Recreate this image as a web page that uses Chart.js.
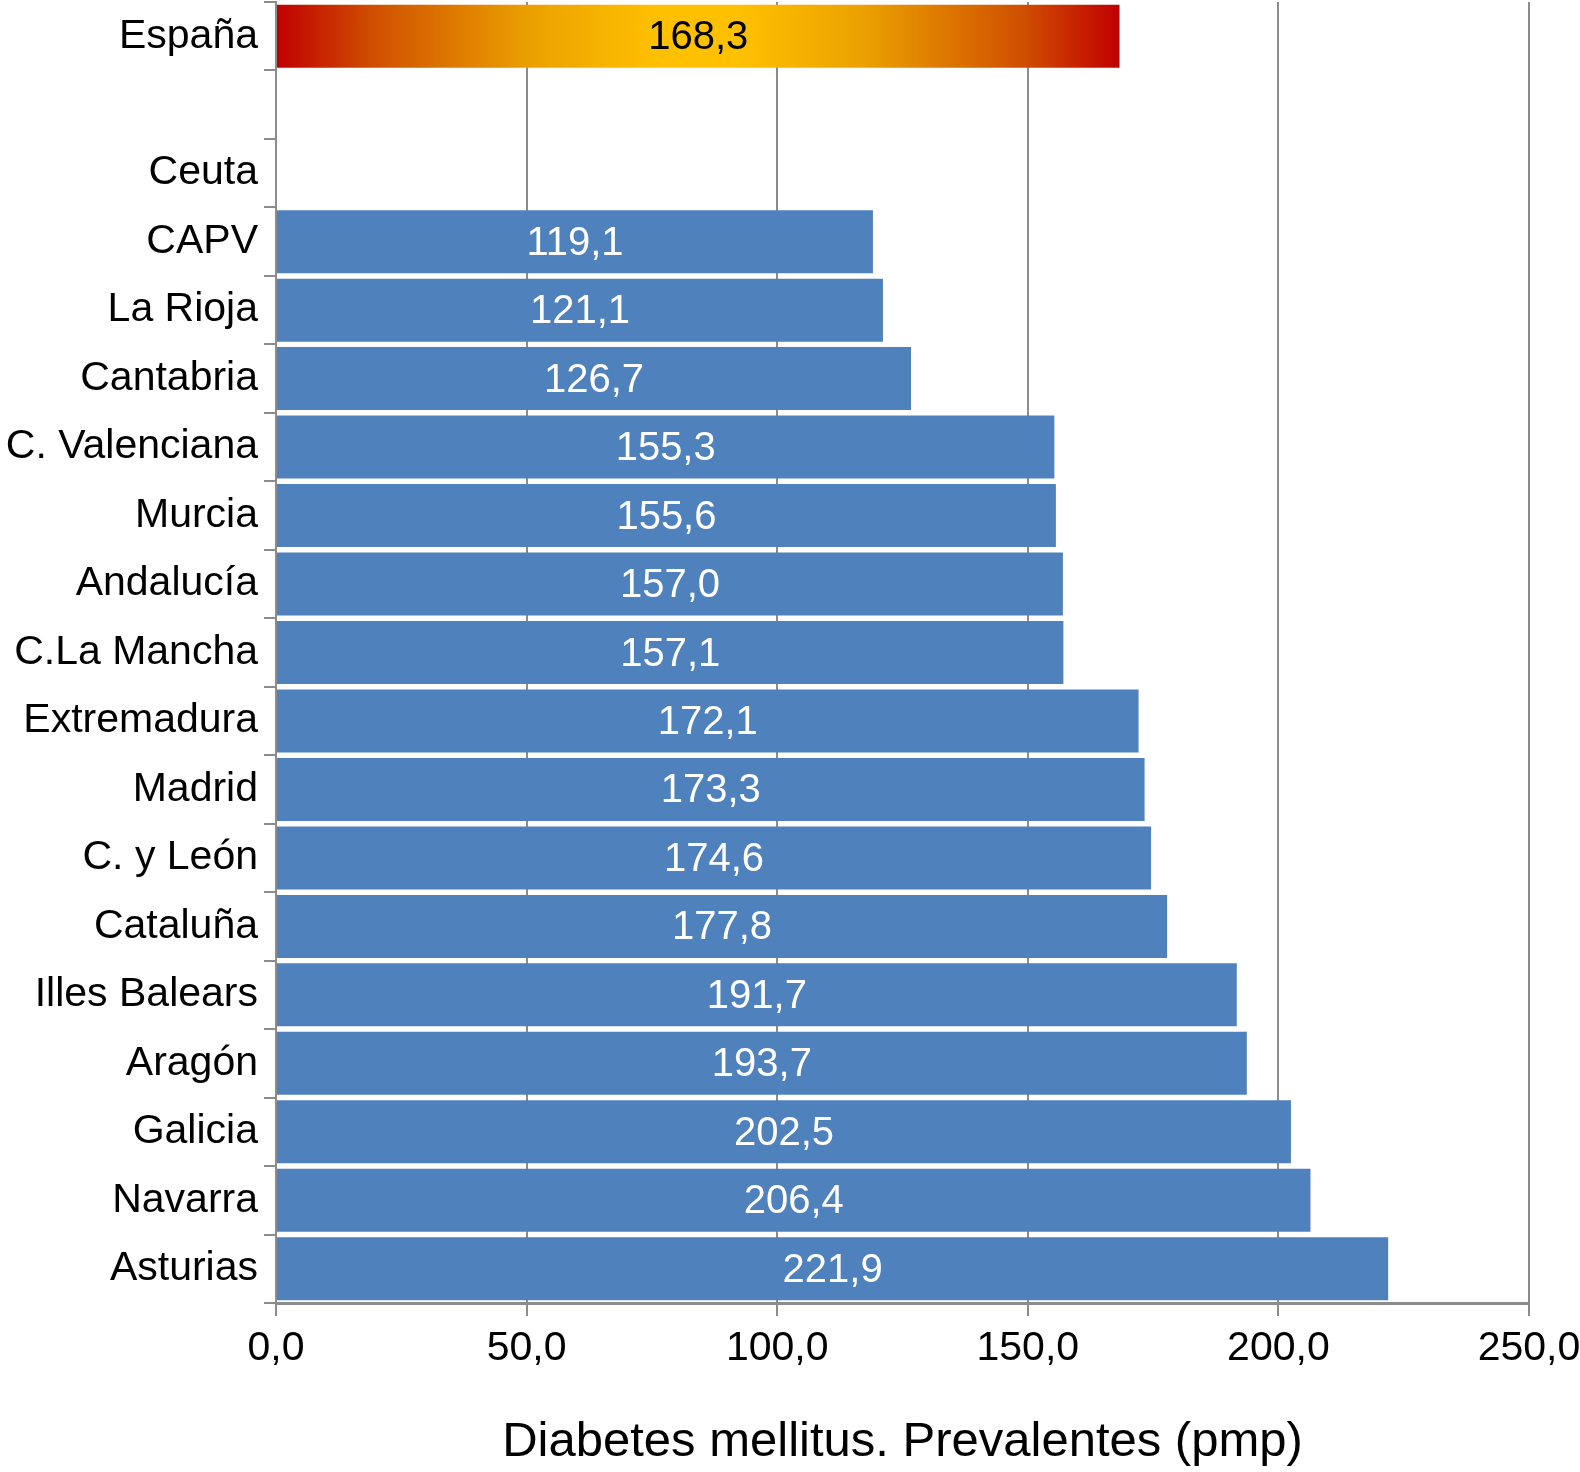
<!DOCTYPE html>
<html>
<head>
<meta charset="utf-8">
<script src="https://cdn.jsdelivr.net/npm/chart.js@4.4.1/dist/chart.umd.min.js"></script>
<style>
  html, body { margin: 0; padding: 0; background: #fff; }
  #wrap { width: 1580px; height: 1472px; position: relative; }
</style>
</head>
<body>
<div id="wrap"><canvas id="prevChart"></canvas></div>
<script>
// Diabetes mellitus prevalence per million by region
const regions = ['España', '', 'Ceuta', 'CAPV', 'La Rioja', 'Cantabria', 'C. Valenciana', 'Murcia',
    'Andalucía', 'C.La Mancha', 'Extremadura', 'Madrid', 'C. y León', 'Cataluña', 'Illes Balears',
    'Aragón', 'Galicia', 'Navarra', 'Asturias'];
const prevalence = [168.3, null, null, 119.1, 121.1, 126.7, 155.3, 155.6,
    157.0, 157.1, 172.1, 173.3, 174.6, 177.8, 191.7,
    193.7, 202.5, 206.4, 221.9];
const xTicks = [0, 50, 100, 150, 200, 250];
const axisTitle = 'Diabetes mellitus. Prevalentes (pmp)';

const FONT = '"Liberation Sans", Arial, Helvetica, sans-serif';
const GRID = '#8c8c8c';
const BLUE = '#4f81bd';

function fmt(v) {
    return v.toFixed(1).replace('.', ',');
}

function barColor(context) {
    if (context.dataIndex !== 0) return BLUE;
    const chart = context.chart;
    if (!chart.chartArea) return '#ffc000';
    const xs = chart.scales.x;
    const x0 = xs.getPixelForValue(0);
    const x1 = xs.getPixelForValue(prevalence[0]);
    const g = chart.ctx.createLinearGradient(x0, 0, x1, 0);
    g.addColorStop(0, '#c00000');
    g.addColorStop(0.12, '#d05200');
    g.addColorStop(0.3, '#eaa000');
    g.addColorStop(0.45, '#ffc000');
    g.addColorStop(0.55, '#ffc000');
    g.addColorStop(0.7, '#eaa000');
    g.addColorStop(0.88, '#d05200');
    g.addColorStop(1, '#c00000');
    return g;
}

const valueLabels = {
    id: 'valueLabels',
    afterDatasetsDraw(chart) {
        const ctx = chart.ctx;
        const meta = chart.getDatasetMeta(0);
        ctx.save();
        ctx.font = '40px ' + FONT;
        ctx.textAlign = 'center';
        ctx.textBaseline = 'middle';
        meta.data.forEach((bar, i) => {
            const v = prevalence[i];
            if (v == null) return;
            ctx.fillStyle = i === 0 ? '#000' : '#fff';
            ctx.fillText(fmt(v), (bar.x + bar.base) / 2, bar.y + 2);
        });
        ctx.restore();
    }
};

new Chart(document.getElementById('prevChart'), {
    type: 'bar',
    data: {
        labels: regions,
        datasets: [{
            data: prevalence,
            backgroundColor: barColor,
            borderWidth: 0,
            barPercentage: 0.92,
            categoryPercentage: 1
        }]
    },
    options: {
        indexAxis: 'y',
        responsive: true,
        maintainAspectRatio: false,
        devicePixelRatio: 1,
        animation: false,
        layout: { padding: { top: 2, right: 0, bottom: 0, left: 0 } },
        plugins: {
            legend: { display: false },
            tooltip: { enabled: false }
        },
        scales: {
            x: {
                min: 0,
                max: 250,
                afterBuildTicks: s => { s.ticks = xTicks.map(v => ({ value: v })); },
                afterFit: s => { s.paddingLeft = 0; s.paddingRight = 51; },
                grid: { color: GRID, lineWidth: 2, tickLength: 13 },
                border: { color: GRID, width: 3 },
                ticks: {
                    color: '#000',
                    padding: 8,
                    font: { family: FONT, size: 41 },
                    callback: v => fmt(v)
                },
                title: {
                    display: true,
                    text: axisTitle,
                    color: '#000',
                    font: { family: FONT, size: 49 },
                    padding: { top: 32, bottom: 0 }
                }
            },
            y: {
                afterFit: s => { s.width = 276; s.paddingTop = 0; s.paddingBottom = 0; },
                grid: { offset: true, drawOnChartArea: false, color: GRID, lineWidth: 2, tickLength: 12 },
                border: { color: GRID, width: 2 },
                ticks: {
                    color: '#000',
                    padding: 6,
                    autoSkip: false,
                    font: { family: FONT, size: 41 }
                }
            }
        }
    },
    plugins: [valueLabels]
});
</script>
</body>
</html>
